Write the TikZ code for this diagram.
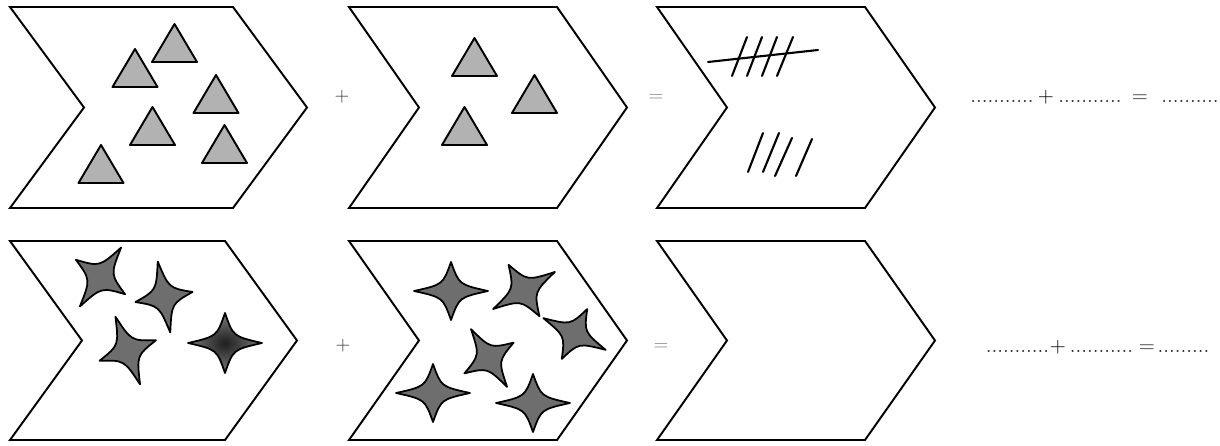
\documentclass[tikz,border=0pt]{standalone}
\usepackage{tikz}
\usetikzlibrary{calc}

\tikzset{
	chevron/.style={line width=1.1pt, line join=miter},
	triangle mark/.style={line width=1.1pt, fill=black!30, line join=round},
	star mark/.style={line width=1pt, fill=black!57, line join=round},
	tally/.style={line width=1.2pt, line cap=round},
	op sign/.style={inner sep=0pt, anchor=base, font=\fontsize{11}{13}\selectfont},
	blank line/.style={inner sep=0pt, anchor=base, font=\fontsize{12}{14}\selectfont, text=black!85},
}

\begin{document}
	\begin{tikzpicture}[x=0.02cm, y=-0.02cm]
		\useasboundingbox[fill=white] (0,0) rectangle (1220,446);
		
		\newcommand{\drawchevron}[5]{% left x, top y, width, depth, height
			\draw[chevron] (#1,#2) -- ++(#3,0) -- ++(#4,#5/2) -- ++(-#4,#5/2) -- ++(-#3,0) -- ++(#4,-#5/2) -- cycle;
		}
		\newcommand{\starpath}{(1,0) .. controls (0.22,0.22) .. (0,1) .. controls (-0.22,0.22) .. (-1,0) .. controls (-0.22,-0.22) .. (0,-1) .. controls (0.22,-0.22) .. (1,0) -- cycle}
		
		% top row
		\drawchevron{10}{7}{223}{74}{201}
		\drawchevron{349}{7}{208}{70}{201}
		\drawchevron{657}{7}{208}{70}{201}
		
		% bottom row
		\drawchevron{10}{241}{215}{72}{199}
		\drawchevron{349}{241}{208}{70}{199}
		\drawchevron{657}{241}{208}{70}{199}
		
		% triangles: base centre x / base y
		\foreach \bx/\by in {174.5/62, 135/87, 216/113, 152.5/145, 224.5/163, 101/183, 474.5/76, 534.5/113, 464.5/145}
		{
			\draw[triangle mark] (\bx-22.5,\by) -- (\bx,\by-38) -- (\bx+22.5,\by) -- cycle;
		}
		
		% stars: centre / rotation / radii
		\foreach \cx/\cy/\rot/\rx/\ry in {100.5/277/-35/30/36, 164/297/10/29/36, 127.75/350.5/20/30/36, 451/291/0/37/29, 524/290.5/31/36/30, 574.5/334/-27/35/28, 489/358/32/29/34, 433/393/0/37/29, 533/403/0/37/29}
		{
			\draw[star mark, shift={(\cx,\cy)}, rotate=\rot, xscale=\rx, yscale=\ry] \starpath;
		}
		\draw[star mark, inner color=black!88, outer color=black!52, shift={(225,343)}, xscale=37, yscale=30] \starpath;
		
		% tally marks
		\foreach \xa/\ya/\xb/\yb in {732/76/747/37, 747/76/762/37, 762/76/777/37, 777/76/793/37, 748/172/763/133, 763/172/779/133, 775/176/792/138, 796/176/812/139}
		{
			\draw[tally] (\xa,\ya) -- (\xb,\yb);
		}
		\draw[tally] (708,62) -- (818,50);
		
		% signs between the chevrons
		\node[op sign, text=black!80] (plus top) at (342,102) {+};
		\node[op sign, text=black!50] (eq top) at (656,102) {=};
		\node[op sign, text=black!80] (plus bottom) at (343,350) {+};
		\node[op sign, text=black!50] (eq bottom) at (661,350) {=};
		
		% sums to fill in
		\node[blank line] (top a) at (1002,103) {...........};
		\node[blank line, text=black] (top plus) at (1046,103) {+};
		\node[blank line] (top b) at (1090,103) {...........};
		\node[blank line] (top eq) at (1140,103) {=};
		\node[blank line] (top c) at (1190,103) {..........};
		
		\node[blank line] (bottom a) at (1017.5,352) {...........};
		\node[blank line, text=black] (bottom plus) at (1058,352) {+};
		\node[blank line] (bottom b) at (1101.5,352) {...........};
		\node[blank line] (bottom eq) at (1147,352) {=};
		\node[blank line] (bottom c) at (1183.5,352) {.........};
	\end{tikzpicture}
\end{document}
